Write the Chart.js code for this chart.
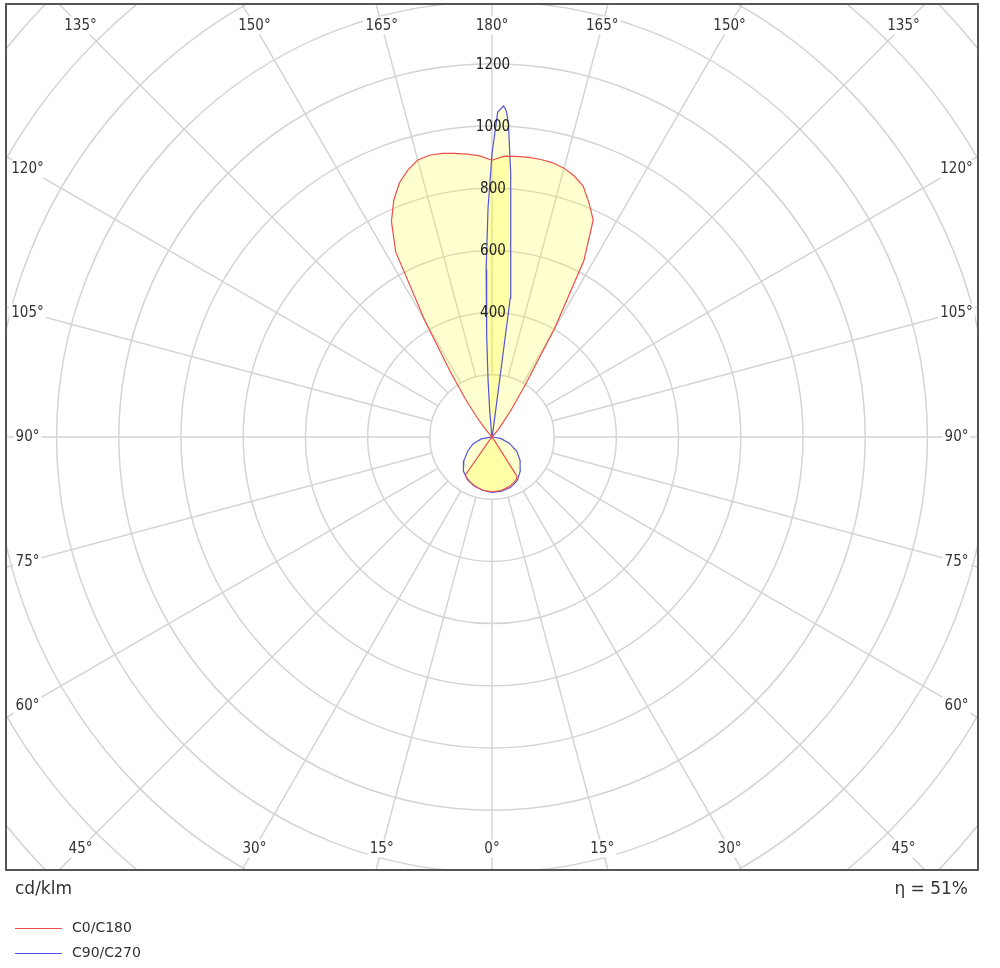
<!DOCTYPE html>
<html>
<head>
<meta charset="utf-8">
<script src="https://cdn.jsdelivr.net/npm/chart.js@4.4.0/dist/chart.umd.min.js"></script>
<style>
html,body{margin:0;padding:0;background:#fff;}
#wrap{position:relative;width:1000px;height:968px;overflow:hidden;}
#c{position:absolute;left:0;top:0;}
.t{position:absolute;font-family:"DejaVu Sans",sans-serif;color:#333;white-space:nowrap;}
.leg{position:absolute;left:15px;font-family:"DejaVu Sans",sans-serif;font-size:14px;line-height:18px;color:#333;white-space:nowrap;}
.leg span.l{display:inline-block;width:47px;height:0;border-top:1px solid;vertical-align:middle;margin-right:10px;}
</style>
</head>
<body>
<div id="wrap">
<canvas id="c" width="1000" height="968"></canvas>
<div class="t" style="left:15px;top:878px;font-size:17px;line-height:20px;">cd/klm</div>
<div class="t" style="right:32px;top:878px;font-size:17px;line-height:20px;">η = 51%</div>
<div id="legend"></div>
</div>
<script>
// ---- data (cd/klm), gamma angles in degrees (0 = down, 180 = up) ----
const seriesLabels = ['C0/C180', 'C90/C270'];

const gammaC0   = [0,5,10,15,20,25,30,32.5,35,40,60,90,120,135,140,142.5,145,147.5,150,152.5,155,157.5,160,162.5,165,167.5,170,172.5,175,177.5,180];
const cdC0      = [176,175,174,171,168,163,157,150,12,3,2,2,2,5,30,57,110,200,400,640,770,815,858,880,895,903,906,907,906,904,890];

const gammaC180 = [0,5,10,15,20,25,30,35,37.5,40,60,90,120,135,140,142.5,145,147.5,150,152.5,155,157.5,160,162.5,165,167.5,170,172.5,175,177.5,180];
const cdC180    = [176,175,173,170,166,162,156,150,12,3,2,2,2,5,35,80,150,250,430,670,765,825,870,900,922,928,926,920,913,905,890];

const gammaC90  = [0,10,20,30,40,50,60,70,80,90,120,150,170,172.5,175,176,177,177.5,178,179,180];
const cdC90     = [178,177,173,162,142,118,92,60,30,3,2,2,3,450,700,850,1010,1050,1065,1045,910];

const gammaC270 = [0,10,20,30,40,50,60,70,80,90,120,150,170,175,176,177,178,179,180];
const cdC270    = [178,174,168,158,143,118,90,65,35,3,2,2,3,80,180,330,540,735,910];

const ringValues   = [200,400,600,800,1000,1200,1400,1600,1800,2000,2200,2400];
const radialTicks  = [400,600,800,1000,1200];
const angleTicks   = [0,15,30,45,60,75,90,105,120,135,150,165,180];

// axis extents in cd/klm (equal unit size on both axes)
const X_EXT = 1562.7, Y_EXT = 1392.3;

function half(gammas, values, side) {
  return gammas.map((g, i) => {
    const a = g * Math.PI / 180;
    return { x: side * values[i] * Math.sin(a), y: -values[i] * Math.cos(a) };
  });
}
function closed(gR, vR, gL, vL) {
  const right = half(gR, vR, 1);
  const left = half(gL, vL, -1).reverse();
  return right.concat(left);
}

const RED = 'rgb(238,78,78)';
const BLUE = 'rgb(84,84,224)';
const FILL = 'rgba(255,255,0,0.19)';
const LABEL_FONT = '15px "DejaVu Sans Condensed", "DejaVu Sans", sans-serif';

const polarGrid = {
  id: 'polarGrid',
  beforeDraw(chart) {
    const { ctx, chartArea: a, scales: { x, y } } = chart;
    const cx = x.getPixelForValue(0), cy = y.getPixelForValue(0);
    const rad = v => x.getPixelForValue(v) - cx;
    ctx.save();
    ctx.fillStyle = '#fff';
    ctx.fillRect(0, 0, chart.width, chart.height);
    ctx.beginPath();
    ctx.rect(a.left, a.top, a.right - a.left, a.bottom - a.top);
    ctx.clip();
    ctx.strokeStyle = '#d4d4d4';
    ctx.lineWidth = 1.5;
    ringValues.forEach(v => {
      ctx.beginPath();
      ctx.arc(cx, cy, rad(v), 0, Math.PI * 2);
      ctx.stroke();
    });
    const r0 = rad(ringValues[0]);
    const rFar = 2000;
    for (let g = 0; g < 360; g += 15) {
      const t = g * Math.PI / 180;
      const dx = Math.sin(t), dy = Math.cos(t);
      ctx.beginPath();
      ctx.moveTo(cx + r0 * dx, cy + r0 * dy);
      ctx.lineTo(cx + rFar * dx, cy + rFar * dy);
      ctx.stroke();
    }
    const halfW = (a.right - a.left) / 2, halfH = (a.bottom - a.top) / 2;
    const insetX = 21.5, insetY = 21.5;
    ctx.font = LABEL_FONT;
    ctx.textAlign = 'center';
    ctx.textBaseline = 'middle';
    angleTicks.forEach(g => {
      const sides = (g === 0 || g === 180) ? [1] : [1, -1];
      sides.forEach(s => {
        const t = g * Math.PI / 180;
        const dx = s * Math.sin(t), dy = Math.cos(t);
        let k = Infinity;
        if (Math.abs(dx) > 1e-9) k = Math.min(k, (halfW - insetX) / Math.abs(dx));
        if (Math.abs(dy) > 1e-9) k = Math.min(k, (halfH - insetY) / Math.abs(dy));
        const px = cx + k * dx, py = cy + k * dy;
        const txt = g + '°';
        const w = ctx.measureText(txt).width;
        ctx.fillStyle = '#fff';
        ctx.fillRect(px - w / 2 - 2, py - 9, w + 4, 18);
        ctx.fillStyle = '#333';
        ctx.fillText(txt, px, py + 0.5);
      });
    });
    ctx.restore();
  },
  afterDatasetsDraw(chart) {
    const { ctx, scales: { x, y } } = chart;
    const cx = x.getPixelForValue(0);
    ctx.save();
    ctx.font = LABEL_FONT;
    ctx.textAlign = 'center';
    ctx.textBaseline = 'middle';
    ctx.fillStyle = '#222';
    radialTicks.forEach(v => {
      ctx.fillText(String(v), cx + 1, y.getPixelForValue(v) + 1);
    });
    ctx.restore();
  },
  afterDraw(chart) {
    const { ctx, chartArea: a } = chart;
    ctx.save();
    ctx.strokeStyle = '#555';
    ctx.lineWidth = 2;
    ctx.strokeRect(a.left, a.top, a.right - a.left, a.bottom - a.top);
    ctx.restore();
  }
};

const chart = new Chart(document.getElementById('c'), {
  type: 'line',
  data: {
    datasets: [
      {
        label: seriesLabels[0],
        data: closed(gammaC0, cdC0, gammaC180, cdC180),
        borderColor: RED, backgroundColor: FILL, borderWidth: 1.2,
        fill: 'shape', pointRadius: 0, tension: 0
      },
      {
        label: seriesLabels[1],
        data: closed(gammaC90, cdC90, gammaC270, cdC270),
        borderColor: BLUE, backgroundColor: FILL, borderWidth: 1.2,
        fill: 'shape', pointRadius: 0, tension: 0
      }
    ]
  },
  options: {
    responsive: false,
    animation: false,
    devicePixelRatio: 1,
    layout: { padding: { left: 6, top: 4, right: 22, bottom: 98 } },
    scales: {
      x: { type: 'linear', min: -X_EXT, max: X_EXT, display: false },
      y: { type: 'linear', min: -Y_EXT, max: Y_EXT, display: false }
    },
    plugins: {
      legend: { display: false },
      tooltip: { enabled: false },
      filler: { drawTime: 'beforeDatasetsDraw' }
    }
  },
  plugins: [polarGrid]
});

const legend = document.getElementById('legend');
chart.data.datasets.forEach((ds, i) => {
  const d = document.createElement('div');
  d.className = 'leg';
  d.style.top = (918 + i * 25) + 'px';
  d.innerHTML = '<span class="l" style="border-color:' + ds.borderColor + '"></span>' + ds.label;
  legend.appendChild(d);
});
</script>
</body>
</html>
